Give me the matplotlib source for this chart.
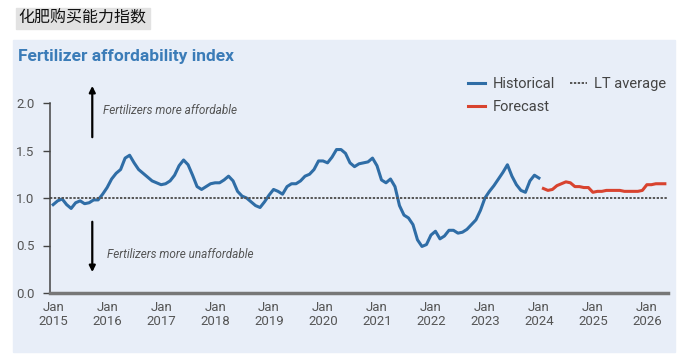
import matplotlib.pyplot as plt
from matplotlib.patches import Rectangle

# monthly index values, Jan 2015 .. Jan 2024 (historical)
historical = [
    0.93, 0.97, 0.99, 0.93, 0.89, 0.95, 0.97, 0.94, 0.95, 0.98, 0.98, 1.04,
    1.11, 1.20, 1.26, 1.30, 1.42, 1.45, 1.37, 1.30, 1.26, 1.22, 1.18, 1.16,
    1.14, 1.15, 1.18, 1.24, 1.34, 1.40, 1.35, 1.24, 1.12, 1.09, 1.12, 1.15,
    1.16, 1.16, 1.19, 1.23, 1.18, 1.07, 1.02, 1.00, 0.96, 0.92, 0.90, 0.96,
    1.03, 1.09, 1.07, 1.04, 1.12, 1.15, 1.15, 1.18, 1.23, 1.25, 1.30, 1.39,
    1.39, 1.37, 1.43, 1.51, 1.51, 1.47, 1.37, 1.33, 1.36, 1.37, 1.38, 1.42,
    1.34, 1.19, 1.16, 1.20, 1.12, 0.92, 0.82, 0.79, 0.72, 0.56, 0.49, 0.51,
    0.61, 0.65, 0.57, 0.60, 0.66, 0.66, 0.63, 0.64, 0.67, 0.72, 0.77, 0.87,
    1.00, 1.07, 1.13, 1.20, 1.27, 1.35, 1.23, 1.14, 1.08, 1.06, 1.18, 1.24,
    1.21,
]
# Feb 2024 .. May 2026 (forecast)
forecast = [
    1.10, 1.08, 1.09, 1.13, 1.15, 1.17, 1.16, 1.12, 1.12, 1.11, 1.11,
    1.06, 1.07, 1.07, 1.08, 1.08, 1.08, 1.08, 1.07, 1.07, 1.07, 1.07, 1.08,
    1.14, 1.14, 1.15, 1.15, 1.15,
]
lt_average = 1.0
years = ["2015", "2016", "2017", "2018", "2019", "2020",
         "2021", "2022", "2023", "2024", "2025", "2026"]
y_ticks = [0.0, 0.5, 1.0, 1.5, 2.0]

blue = "#2f6da6"
red = "#d8432f"
panel = "#e8eef8"
font = ["Roboto", "DejaVu Sans"]

fig = plt.figure(figsize=(6.96, 3.6), dpi=100)
W, H = 696, 360

# Chinese heading with grey highlight
fig.patches.append(Rectangle((16 / W, 1 - 29 / H), 134 / W, 21 / H,
                             transform=fig.transFigure, color="#e2e2e2", zorder=-5))
fig.text(18 / W, 1 - 18.5 / H, "化肥购买能力指数", fontsize=11.5, va="center",
         family=["Noto Sans CJK SC", "DejaVu Sans"], color="#111111", fontweight="medium")

# light blue panel
fig.patches.append(Rectangle((13 / W, 1 - 352 / H), 662 / W, 312 / H,
                             transform=fig.transFigure, color=panel, zorder=-5))
fig.text(18 / W, 1 - 56 / H, "Fertilizer affordability index", fontsize=12.5,
         fontweight="bold", color="#3b7cb8", va="center", family=font)

ax = fig.add_axes([50 / W, 1 - 293 / H, 618 / W, 190 / H])
ax.set_facecolor("none")

hx = list(range(len(historical)))
fx = list(range(len(historical), len(historical) + len(forecast)))
ax.plot(hx, historical, color=blue, lw=2.2, label="Historical", solid_joinstyle="round")
ax.plot(fx, forecast, color=red, lw=2.2, label="Forecast", solid_joinstyle="round")
ax.axhline(lt_average, color="#555555", lw=1.4, ls=(0, (1.2, 0.8)), label="LT average")

ax.set_xlim(-0.7, 136.7)
ax.set_ylim(0, 2.0)
ax.set_yticks(y_ticks)
ax.set_yticklabels([f"{v:.1f}" for v in y_ticks], fontsize=9.5, color="#555555", family=font)
ax.set_xticks([12 * i for i in range(len(years))])
ax.set_xticklabels([f"Jan\n{y}" for y in years], fontsize=9.5, color="#555555",
                   linespacing=1.1, family=font)
ax.tick_params(axis="x", length=0, pad=6)
ax.tick_params(axis="y", length=5, width=1, color="#444444", pad=6)

for s in ["top", "right"]:
    ax.spines[s].set_visible(False)
ax.spines["left"].set_color("#444444")
ax.spines["left"].set_linewidth(1.1)
ax.spines["bottom"].set_color("#777777")
ax.spines["bottom"].set_linewidth(2.5)

# affordability arrows
ax.annotate("", xy=(8.7, 2.18), xytext=(8.7, 1.64), annotation_clip=False,
            arrowprops=dict(arrowstyle="-|>", color="black", lw=1.6, mutation_scale=9,
                            shrinkA=0, shrinkB=0))
ax.annotate("", xy=(8.7, 0.22), xytext=(8.7, 0.75), annotation_clip=False,
            arrowprops=dict(arrowstyle="-|>", color="black", lw=1.6, mutation_scale=9,
                            shrinkA=0, shrinkB=0))
ax.text(11, 1.92, "Fertilizers more affordable", fontsize=8.5, style="italic",
        color="#555555", va="center", family=font)
ax.text(12, 0.41, "Fertilizers more unaffordable", fontsize=8.5, style="italic",
        color="#555555", va="center", family=font)

leg = ax.legend(loc="upper left", bbox_to_anchor=(0.655, 1.205), ncol=2,
                frameon=False, handlelength=1.2, handletextpad=0.5,
                columnspacing=1.0, labelspacing=0.6,
                prop={"family": font, "size": 10.5})
for t in leg.get_texts():
    t.set_color("#444444")

fig.savefig("out.png", dpi=100)
